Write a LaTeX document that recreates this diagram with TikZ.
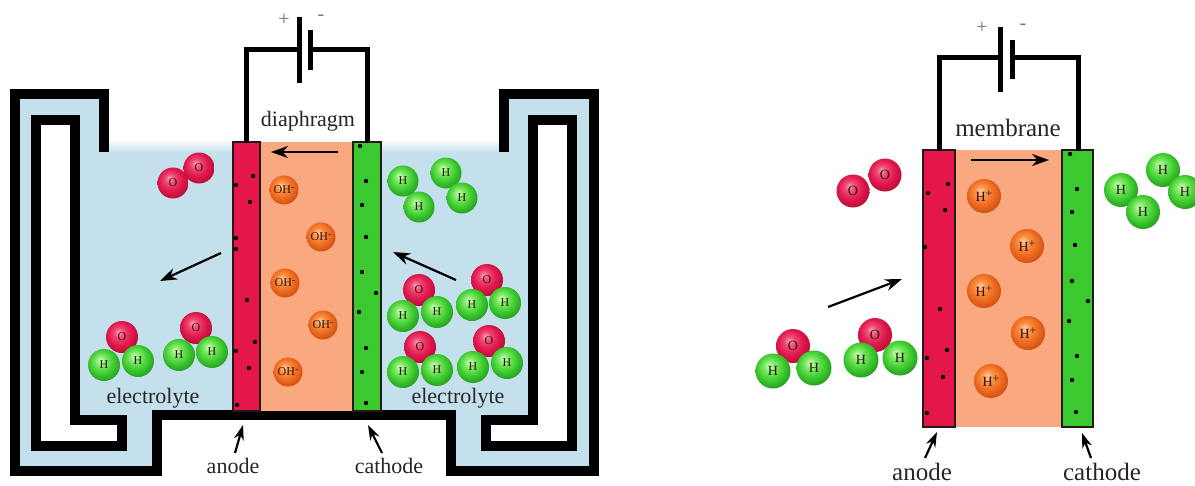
\documentclass[tikz,border=0pt]{standalone}
\usepackage{fontspec}
\setmainfont{Liberation Serif}
\usetikzlibrary{arrows.meta}

\definecolor{liquid}{RGB}{196,224,236}
\definecolor{anodered}{RGB}{228,22,74}
\definecolor{membranefill}{RGB}{250,168,128}
\definecolor{cathodegreen}{RGB}{58,202,48}
\definecolor{balltext}{RGB}{45,20,20}
\definecolor{edgedark}{RGB}{35,25,25}

% shaded spheres for the atoms and ions
\pgfdeclareradialshading{oxyball}{\pgfpoint{-6bp}{8bp}}{rgb(0bp)=(0.99,0.62,0.72); rgb(8bp)=(0.94,0.28,0.45); rgb(18bp)=(0.88,0.10,0.31); rgb(28bp)=(0.74,0.05,0.22); rgb(50bp)=(0.74,0.05,0.22)}
\pgfdeclareradialshading{hydball}{\pgfpoint{-6bp}{8bp}}{rgb(0bp)=(0.82,1.00,0.76); rgb(8bp)=(0.50,0.92,0.40); rgb(18bp)=(0.26,0.81,0.20); rgb(28bp)=(0.15,0.64,0.13); rgb(50bp)=(0.15,0.64,0.13)}
\pgfdeclareradialshading{ionball}{\pgfpoint{-6bp}{8bp}}{rgb(0bp)=(1.00,0.82,0.66); rgb(8bp)=(0.98,0.58,0.28); rgb(18bp)=(0.94,0.43,0.13); rgb(28bp)=(0.82,0.32,0.08); rgb(50bp)=(0.82,0.32,0.08)}

\tikzset{
  wall/.style={line width=9.5pt, line join=miter},
  wire/.style={line width=5pt},
  flow/.style={line width=2.2pt, -{Stealth[length=17pt,width=12pt]}},
  pointer/.style={line width=2.2pt, -{Stealth[length=15pt,width=10pt]}},
  lbl/.style={font=\fontsize{22}{24}\selectfont, text=black!85, inner sep=0pt},
  rlbl/.style={font=\fontsize{25}{27}\selectfont, text=black!85, inner sep=0pt},
  sign/.style={font=\fontsize{20}{20}\selectfont, text=black!55, inner sep=0pt},
  atomtxt/.style={font=\fontsize{12}{12}\selectfont, text=balltext, inner sep=0pt},
  ratomtxt/.style={font=\fontsize{14}{14}\selectfont, text=balltext, inner sep=0pt},
  electrode/.style={draw=edgedark, line width=1.5pt},
}

% name, shading, centre, radius, text style, label
\newcommand\atom[6]{%
  \shade[shading=#2] (#3) circle (#4pt);
  \node[#5] (#1) at (#3) {#6};}

\begin{document}
\begin{tikzpicture}[x=1pt, y=-1pt]
\useasboundingbox (0,0) rectangle (1195,485);
\fill[white] (0,0) rectangle (1195,485);

% ================= alkaline electrolyser (left) =================
% electrolyte in the vessel and in the side channels
\fill[liquid] (104,152) -- (104,94) -- (15,94) -- (15,471) -- (157,471) -- (157,415)
  -- (451,415) -- (451,471) -- (594,471) -- (594,94) -- (504,94) -- (504,152) -- cycle;
\shade[top color=white, bottom color=liquid] (108,139) rectangle (500,153);
% hollow inner walls
\fill[white] (36,120) -- (75,120) -- (75,420) -- (122,420) -- (122,446) -- (36,446) -- cycle;
\fill[white] (572,120) -- (533,120) -- (533,420) -- (486,420) -- (486,446) -- (572,446) -- cycle;
% walls
\draw[wall] (104,152) -- (104,94) -- (15,94) -- (15,471) -- (157,471) -- (157,415)
  -- (451,415) -- (451,471) -- (594,471) -- (594,94) -- (504,94) -- (504,152);
\draw[wall] (36,120) -- (75,120) -- (75,420) -- (122,420) -- (122,446) -- (36,446) -- cycle;
\draw[wall] (572,120) -- (533,120) -- (533,420) -- (486,420) -- (486,446) -- (572,446) -- cycle;

% electrodes and diaphragm
\fill[membranefill] (260,142) rectangle (353,411);
\draw[electrode, fill=anodered] (233,142) rectangle (260,411);
\draw[electrode, fill=cathodegreen] (353,142) rectangle (381,411);
\foreach \p in {(236,185),(253,176),(250,202),(236,238),(236,249),(247,300),(255,342),(236,351),(249,368),(237,405)}
  \fill \p circle (2.2pt);
\foreach \p in {(360,146),(366,181),(362,205),(366,237),(362,272),(376,293),(359,312),(366,348),(362,372),(366,403)}
  \fill \p circle (2.2pt);

% power supply
\coordinate (anTopL) at (246,143);
\coordinate (caTopL) at (367,143);
\coordinate (plusL) at (299,49);
\coordinate (minusL) at (310,49);
\draw[wire, line join=miter] (anTopL) -- (246,49) -- (plusL);
\draw[wire, line join=miter] (minusL) -- (367,49) -- (caTopL);
\draw[wire] (299,17) -- (299,83);
\draw[wire] (310,30) -- (310,70);
\node[sign] (plusLbl) at (284,20) {+};
\node[sign] (minusLbl) at (321,18) {-};

\node[lbl] (diaphragm) at (308,121) {diaphragm};
\coordinate (ohStart) at (338,152);
\coordinate (ohEnd) at (271,152);
\draw[flow] (ohStart) -- (ohEnd);

% hydroxide ions
\foreach \n/\p in {1/{284,190}, 2/{321,237}, 3/{285,283}, 4/{323,325}, 5/{288,372}}{
  \atom{oh\n}{ionball}{\p}{14.5}{atomtxt}{OH\raisebox{0.55ex}{\fontsize{10}{10}\selectfont -}}
}

% oxygen side
\atom{o2a}{oxyball}{173,183}{15.5}{atomtxt}{O}
\atom{o2b}{oxyball}{199,168}{15.5}{atomtxt}{O}
\coordinate (oArrS) at (221,253);
\coordinate (oArrE) at (160,281);
\draw[flow] (oArrS) -- (oArrE);
\atom{w1o}{oxyball}{122,337}{16}{atomtxt}{O}
\atom{w1a}{hydball}{104,365}{16}{atomtxt}{H}
\atom{w1b}{hydball}{138,361}{16}{atomtxt}{H}
\atom{w2o}{oxyball}{196,328}{16}{atomtxt}{O}
\atom{w2a}{hydball}{179,355}{16}{atomtxt}{H}
\atom{w2b}{hydball}{212,352}{16}{atomtxt}{H}
\node[lbl] (electrolyteL) at (153,398) {electrolyte};

% hydrogen side
\atom{h2a}{hydball}{403,181}{15.5}{atomtxt}{H}
\atom{h2b}{hydball}{419,207}{15.5}{atomtxt}{H}
\atom{h2c}{hydball}{446,173}{15.5}{atomtxt}{H}
\atom{h2d}{hydball}{462,198}{15.5}{atomtxt}{H}
\coordinate (hArrS) at (456,280);
\coordinate (hArrE) at (393,252);
\draw[flow] (hArrS) -- (hArrE);
\atom{w3o}{oxyball}{419,290}{16}{atomtxt}{O}
\atom{w3a}{hydball}{403,316}{16}{atomtxt}{H}
\atom{w3b}{hydball}{437,312}{16}{atomtxt}{H}
\atom{w4o}{oxyball}{487,280}{16}{atomtxt}{O}
\atom{w4a}{hydball}{472,305}{16}{atomtxt}{H}
\atom{w4b}{hydball}{505,303}{16}{atomtxt}{H}
\atom{w5o}{oxyball}{420,347}{16}{atomtxt}{O}
\atom{w5a}{hydball}{403,372}{16}{atomtxt}{H}
\atom{w5b}{hydball}{437,370}{16}{atomtxt}{H}
\atom{w6o}{oxyball}{489,341}{16}{atomtxt}{O}
\atom{w6a}{hydball}{473,367}{16}{atomtxt}{H}
\atom{w6b}{hydball}{507,363}{16}{atomtxt}{H}
\node[lbl] (electrolyteR) at (458,398) {electrolyte};

% electrode labels
\node[lbl] (anodeL) at (233,466) {anode};
\node[lbl] (cathodeL) at (389,466) {cathode};
\coordinate (anTipL) at (243,425);
\coordinate (caTipL) at (368,425);
\draw[pointer] (235,453) -- (anTipL);
\draw[pointer] (382,453) -- (caTipL);

% ================= PEM electrolyser (right) =================
\fill[membranefill] (955,150) rectangle (1062,427);
\draw[electrode, fill=anodered] (923,150) rectangle (955,427);
\draw[electrode, fill=cathodegreen] (1062,150) rectangle (1093,427);
\foreach \p in {(928,193),(948,184),(945,210),(925,247),(940,309),(947,350),(927,358),(943,377),(927,413)}
  \fill \p circle (2.2pt);
\foreach \p in {(1070,154),(1077,189),(1072,212),(1075,245),(1072,281),(1088,301),(1069,321),(1077,356),(1072,380),(1076,412)}
  \fill \p circle (2.2pt);

\coordinate (anTopR) at (939.5,151);
\coordinate (caTopR) at (1078,151);
\coordinate (plusR) at (1000.5,57);
\coordinate (minusR) at (1012,57);
\draw[wire, line join=miter] (anTopR) -- (939.5,57) -- (plusR);
\draw[wire, line join=miter] (minusR) -- (1078,57) -- (caTopR);
\draw[wire] (1000.5,27) -- (1000.5,92);
\draw[wire] (1012,40) -- (1012,79);
\node[sign] (plusLblR) at (982,28) {+};
\node[sign] (minusLblR) at (1023,27) {-};

\node[rlbl] (membraneLbl) at (1008,128) {membrane};
\coordinate (hpStart) at (971,160);
\coordinate (hpEnd) at (1049,160);
\draw[flow] (hpStart) -- (hpEnd);

% protons
\foreach \n/\p in {1/{984,196}, 2/{1027,246}, 3/{984,291}, 4/{1028,333}, 5/{991,381}}{
  \atom{hp\n}{ionball}{\p}{17}{ratomtxt}{H\raisebox{0.7ex}{\fontsize{12}{12}\selectfont +}}
}

\atom{o2c}{oxyball}{853,191}{16.5}{ratomtxt}{O}
\atom{o2d}{oxyball}{885,175}{16.5}{ratomtxt}{O}

\coordinate (wArrS) at (828,307);
\coordinate (wArrE) at (902,279);
\draw[flow] (wArrS) -- (wArrE);
\atom{w7o}{oxyball}{793,346}{17}{ratomtxt}{O}
\atom{w7a}{hydball}{773,371}{17.5}{ratomtxt}{H}
\atom{w7b}{hydball}{814,368}{17.5}{ratomtxt}{H}
\atom{w8o}{oxyball}{875,335}{17}{ratomtxt}{O}
\atom{w8a}{hydball}{861,360}{17.5}{ratomtxt}{H}
\atom{w8b}{hydball}{900,358}{17.5}{ratomtxt}{H}

\atom{h2e}{hydball}{1121,190}{17}{ratomtxt}{H}
\atom{h2f}{hydball}{1143,212}{17}{ratomtxt}{H}
\atom{h2g}{hydball}{1163,170}{17}{ratomtxt}{H}
\atom{h2h}{hydball}{1185,192}{17}{ratomtxt}{H}

\node[rlbl] (anodeR) at (922,472) {anode};
\node[rlbl] (cathodeR) at (1102,472) {cathode};
\coordinate (anTipR) at (937,432);
\coordinate (caTipR) at (1082,433);
\draw[pointer] (925,458) -- (anTipR);
\draw[pointer] (1091,458) -- (caTipR);
\end{tikzpicture}
\end{document}
